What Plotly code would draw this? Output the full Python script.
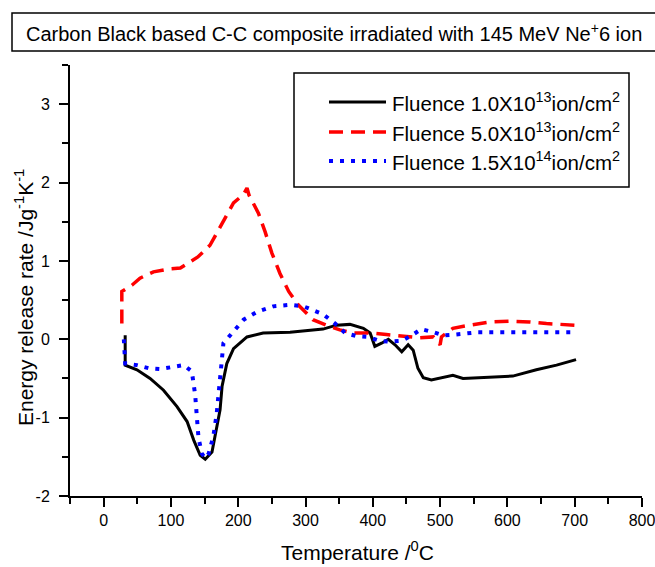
import plotly.graph_objects as go

# ---------------- data ----------------
black_T = [32, 32, 49.5, 69, 89, 109, 124, 134, 143.5, 151, 161, 166, 173, 176, 183, 193, 213, 237,
           277, 326, 346, 366, 386, 396, 403, 413, 423, 433, 443, 452.5, 460, 467, 475, 487, 502, 510,
           519, 534, 569, 608, 643, 673, 702]
black_v = [0.05, -0.33, -0.39, -0.50, -0.65, -0.86, -1.05, -1.29, -1.48, -1.53, -1.44, -1.22, -0.90,
           -0.60, -0.31, -0.12, 0.03, 0.08, 0.09, 0.13, 0.18, 0.19, 0.14, 0.08, -0.09, -0.05, 0.00, -0.07,
           -0.16, -0.07, -0.14, -0.37, -0.49, -0.52, -0.49, -0.47, -0.46, -0.50, -0.49, -0.47, -0.39, -0.33,
           -0.26]

red_T = [27, 27, 42, 54, 74, 99, 114, 126, 140, 158, 176, 193, 208, 213, 216, 230, 240, 250, 262, 275,
         289, 311, 331, 351, 371, 396, 420, 450, 470, 490, 500, 502, 519, 544, 574, 603, 633, 658, 678, 700]
red_v = [0.20, 0.61, 0.69, 0.78, 0.86, 0.90, 0.91, 0.97, 1.05, 1.20, 1.48, 1.74, 1.85, 1.93, 1.84, 1.61,
         1.37, 1.10, 0.84, 0.61, 0.44, 0.25, 0.18, 0.12, 0.08, 0.08, 0.06, 0.03, 0.02, 0.03, -0.07, 0.03,
         0.14, 0.18, 0.22, 0.23, 0.22, 0.20, 0.19, 0.18]

blue_T = [30, 32, 49.5, 67, 84, 101.5, 119, 131, 136, 138.5, 141, 146, 151, 156, 163, 168, 173, 178, 193,
          208, 228, 252, 277, 297, 326, 344, 359, 376, 393, 410, 425, 443, 458, 472, 490, 504, 522, 539,
          556, 574, 608, 640, 675, 700]
blue_v = [0.00, -0.31, -0.33, -0.37, -0.38, -0.35, -0.33, -0.41, -0.71, -0.99, -1.26, -1.46, -1.52, -1.46,
          -1.24, -0.95, -0.50, -0.05, 0.10, 0.25, 0.35, 0.42, 0.44, 0.42, 0.32, 0.20, 0.08, 0.04, 0.03,
          -0.02, -0.03, -0.02, 0.05, 0.13, 0.09, 0.05, 0.06, 0.08, 0.09, 0.09, 0.09, 0.09, 0.09, 0.09]

series_names = ["Fluence 1.0X10<sup>13</sup>ion/cm<sup>2</sup>",
                "Fluence 5.0X10<sup>13</sup>ion/cm<sup>2</sup>",
                "Fluence 1.5X10<sup>14</sup>ion/cm<sup>2</sup>"]

x_tickvals = [0, 100, 200, 300, 400, 500, 600, 700, 800]
x_ticktext = ["0", "100", "200", "300", "400", "500", "600", "700", "800"]
y_tickvals = [-2, -1, 0, 1, 2, 3]
y_ticktext = ["-2", "-1", "0", "1", "2", "3"]

title_text = "Carbon Black based C-C composite irradiated with 145 MeV Ne<sup>+</sup>6 ion"
x_title = "Temperature /<sup>0</sup>C"
y_title = "Energy release rate /Jg<sup>-1</sup>K<sup>-1</sup>"

FONT = "Arial, Liberation Sans, sans-serif"
colors = ["black", "red", "blue"]
dashes = ["solid", "14px,8px", "4px,7px"]
widths = [3, 3.5, 4]

# ---------------- figure ----------------
W, H = 655, 567
ml, mr, mt, mb = 70, 13, 65, 71
pw, ph = W - ml - mr, H - mt - mb

def px2paper_x(p):
    return (p - ml) / pw

def px2paper_y(p):
    return (H - mb - p) / ph

fig = go.Figure()
for T, v, c, d, w, n in zip([black_T, red_T, blue_T], [black_v, red_v, blue_v], colors, dashes, widths,
                            series_names):
    fig.add_trace(go.Scatter(x=T, y=v, mode="lines", name=n,
                             line=dict(color=c, dash=d, width=w), showlegend=False))

axis_common = dict(showline=True, linecolor="black", linewidth=2, ticks="outside", ticklen=9,
                   tickwidth=2, tickcolor="black", showgrid=False, zeroline=False, mirror=False,
                   ticklabeloverflow="allow",
                   tickfont=dict(family=FONT, size=16, color="black"))

fig.update_xaxes(range=[-50, 800], tickvals=x_tickvals, ticktext=x_ticktext,
                 minor=dict(tickvals=[-50, 50, 150, 250, 350, 450, 550, 650, 750], ticklen=6,
                            tickwidth=2, tickcolor="black", ticks="outside"),
                 **axis_common)
fig.update_yaxes(range=[-2, 3.5], tickvals=y_tickvals, ticktext=y_ticktext, ticklabelstandoff=6,
                 minor=dict(tickvals=[-1.5, -0.5, 0.5, 1.5, 2.5, 3.5], ticklen=6,
                            tickwidth=2, tickcolor="black", ticks="outside"),
                 **axis_common)

shapes = []
annotations = []

# title box
shapes.append(dict(type="rect", xref="paper", yref="paper",
                   x0=px2paper_x(12), x1=px2paper_x(662), y0=px2paper_y(51), y1=px2paper_y(13),
                   line=dict(color="black", width=1.5), fillcolor="white", layer="above"))
annotations.append(dict(text=title_text, xref="paper", yref="paper", x=px2paper_x(334), y=px2paper_y(32),
                        xanchor="center", yanchor="middle", showarrow=False,
                        font=dict(family=FONT, size=20, color="black")))

# legend box
shapes.append(dict(type="rect", xref="paper", yref="paper",
                   x0=px2paper_x(294), x1=px2paper_x(629), y0=px2paper_y(187), y1=px2paper_y(73),
                   line=dict(color="black", width=1.5), fillcolor="white", layer="above"))
rows = [102, 132, 161]
for ry, c, d, w, n in zip(rows, colors, dashes, widths, series_names):
    shapes.append(dict(type="line", xref="paper", yref="paper",
                       x0=px2paper_x(329), x1=px2paper_x(386), y0=px2paper_y(ry), y1=px2paper_y(ry),
                       line=dict(color=c, width=w, dash=d), layer="above"))
    annotations.append(dict(text=n, xref="paper", yref="paper", x=px2paper_x(390), y=px2paper_y(ry),
                            xanchor="left", yanchor="middle", showarrow=False,
                            font=dict(family=FONT, size=20.5, color="black")))

# axis titles
annotations.append(dict(text=x_title, xref="paper", yref="paper", x=px2paper_x(357), y=px2paper_y(551),
                        xanchor="center", yanchor="middle", showarrow=False,
                        font=dict(family=FONT, size=21, color="black")))
annotations.append(dict(text=y_title, xref="paper", yref="paper", x=px2paper_x(24), y=px2paper_y(298),
                        xanchor="center", yanchor="middle", showarrow=False, textangle=-90,
                        font=dict(family=FONT, size=21, color="black")))

fig.update_layout(width=W, height=H, margin=dict(l=ml, r=mr, t=mt, b=mb, autoexpand=False),
                  plot_bgcolor="white", paper_bgcolor="white", showlegend=False,
                  shapes=shapes, annotations=annotations)

fig.write_html("out.html")
